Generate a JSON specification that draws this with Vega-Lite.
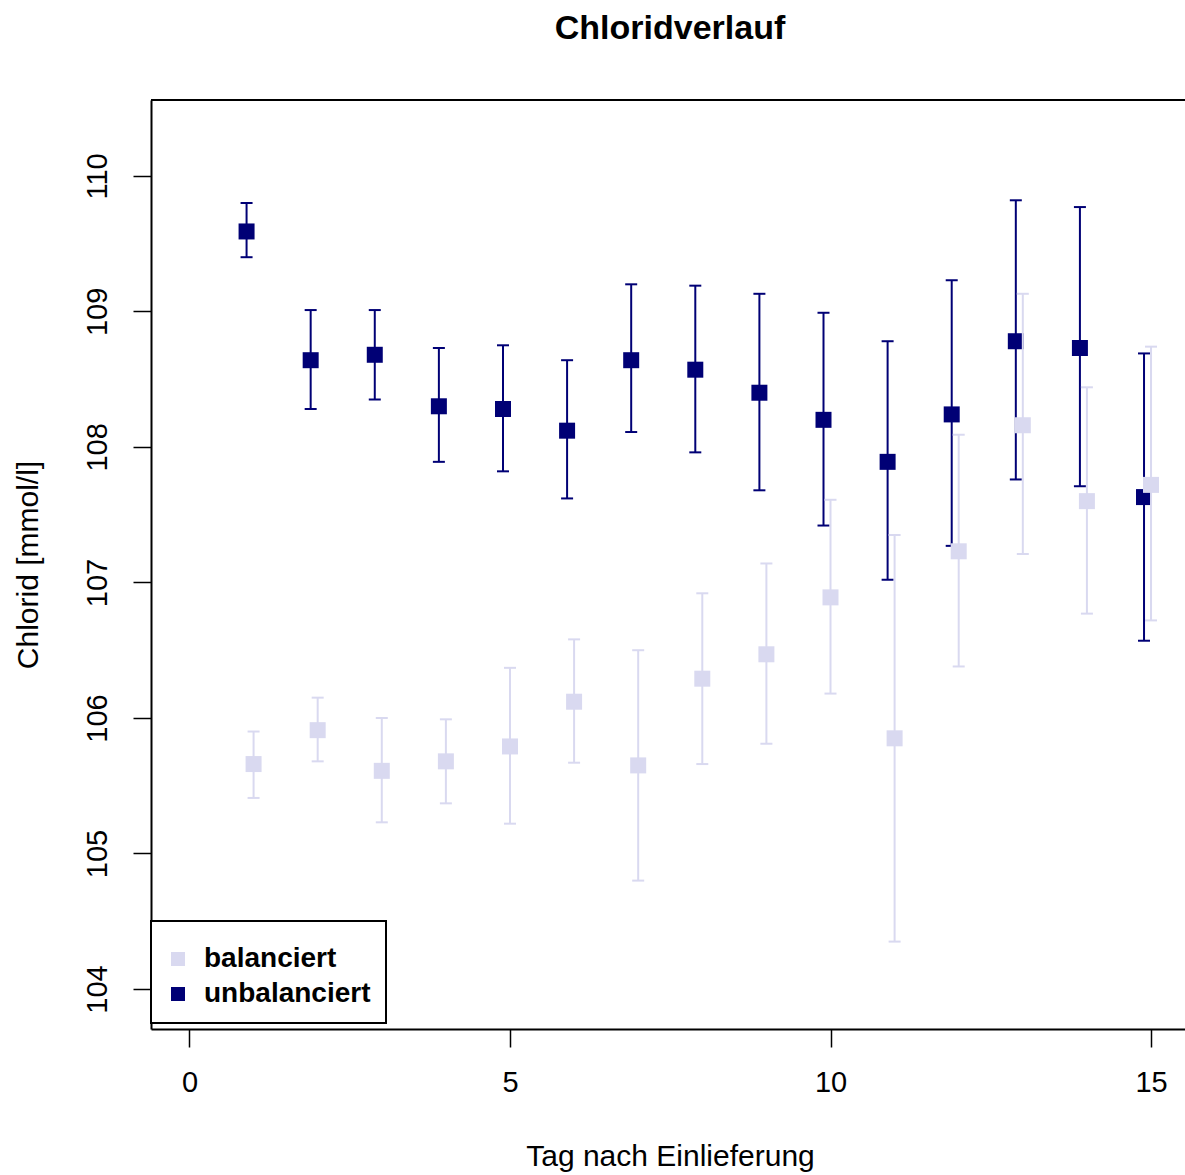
{
  "$schema": "https://vega.github.io/schema/vega-lite/v6.json",
  "width": 1034,
  "height": 929,
  "autosize": {"type": "none"},
  "padding": {"left": 151, "top": 100, "right": 0, "bottom": 146},
  "background": "white",
  "title": {
    "text": "Chloridverlauf",
    "font": "Liberation Sans",
    "fontSize": 34,
    "fontWeight": "bold",
    "color": "black",
    "anchor": "middle",
    "frame": "group",
    "baseline": "alphabetic",
    "offset": 26,
    "dx": 2
  },
  "data": {
    "values": [
      {"tag": 1, "gruppe": "unbalanciert", "mittel": 109.59, "lo": 109.40, "hi": 109.80},
      {"tag": 2, "gruppe": "unbalanciert", "mittel": 108.64, "lo": 108.28, "hi": 109.01},
      {"tag": 3, "gruppe": "unbalanciert", "mittel": 108.68, "lo": 108.35, "hi": 109.01},
      {"tag": 4, "gruppe": "unbalanciert", "mittel": 108.30, "lo": 107.89, "hi": 108.73},
      {"tag": 5, "gruppe": "unbalanciert", "mittel": 108.28, "lo": 107.82, "hi": 108.75},
      {"tag": 6, "gruppe": "unbalanciert", "mittel": 108.12, "lo": 107.62, "hi": 108.64},
      {"tag": 7, "gruppe": "unbalanciert", "mittel": 108.64, "lo": 108.11, "hi": 109.20},
      {"tag": 8, "gruppe": "unbalanciert", "mittel": 108.57, "lo": 107.96, "hi": 109.19},
      {"tag": 9, "gruppe": "unbalanciert", "mittel": 108.40, "lo": 107.68, "hi": 109.13},
      {"tag": 10, "gruppe": "unbalanciert", "mittel": 108.20, "lo": 107.42, "hi": 108.99},
      {"tag": 11, "gruppe": "unbalanciert", "mittel": 107.89, "lo": 107.02, "hi": 108.78},
      {"tag": 12, "gruppe": "unbalanciert", "mittel": 108.24, "lo": 107.27, "hi": 109.23},
      {"tag": 13, "gruppe": "unbalanciert", "mittel": 108.78, "lo": 107.76, "hi": 109.82},
      {"tag": 14, "gruppe": "unbalanciert", "mittel": 108.73, "lo": 107.71, "hi": 109.77},
      {"tag": 15, "gruppe": "unbalanciert", "mittel": 107.63, "lo": 106.57, "hi": 108.69},
      {"tag": 1, "gruppe": "balanciert", "mittel": 105.66, "lo": 105.41, "hi": 105.90},
      {"tag": 2, "gruppe": "balanciert", "mittel": 105.91, "lo": 105.68, "hi": 106.15},
      {"tag": 3, "gruppe": "balanciert", "mittel": 105.61, "lo": 105.23, "hi": 106.00},
      {"tag": 4, "gruppe": "balanciert", "mittel": 105.68, "lo": 105.37, "hi": 105.99},
      {"tag": 5, "gruppe": "balanciert", "mittel": 105.79, "lo": 105.22, "hi": 106.37},
      {"tag": 6, "gruppe": "balanciert", "mittel": 106.12, "lo": 105.67, "hi": 106.58},
      {"tag": 7, "gruppe": "balanciert", "mittel": 105.65, "lo": 104.80, "hi": 106.50},
      {"tag": 8, "gruppe": "balanciert", "mittel": 106.29, "lo": 105.66, "hi": 106.92},
      {"tag": 9, "gruppe": "balanciert", "mittel": 106.47, "lo": 105.81, "hi": 107.14},
      {"tag": 10, "gruppe": "balanciert", "mittel": 106.89, "lo": 106.18, "hi": 107.61},
      {"tag": 11, "gruppe": "balanciert", "mittel": 105.85, "lo": 104.35, "hi": 107.35},
      {"tag": 12, "gruppe": "balanciert", "mittel": 107.23, "lo": 106.38, "hi": 108.09},
      {"tag": 13, "gruppe": "balanciert", "mittel": 108.16, "lo": 107.21, "hi": 109.13},
      {"tag": 14, "gruppe": "balanciert", "mittel": 107.60, "lo": 106.77, "hi": 108.44},
      {"tag": 15, "gruppe": "balanciert", "mittel": 107.72, "lo": 106.72, "hi": 108.74}
    ]
  },
  "encoding": {
    "x": {
      "field": "tag",
      "type": "quantitative",
      "scale": {"domain": [-0.6, 15.53], "nice": false, "zero": false},
      "axis": {
        "values": [0, 5, 10, 15],
        "labelPadding": 21,
        "title": "Tag nach Einlieferung",
        "titleBaseline": "alphabetic",
        "titleY": 136,
        "titleX": 519
      }
    },
    "y": {
      "field": "mittel",
      "type": "quantitative",
      "scale": {"domain": [103.705, 110.56], "nice": false, "zero": false},
      "axis": {
        "values": [104, 105, 106, 107, 108, 109, 110],
        "labelAngle": 270,
        "labelAlign": "center",
        "labelBaseline": "bottom",
        "labelPadding": 21,
        "title": "Chlorid [mmol/l]",
        "titleAngle": 270,
        "titleAlign": "center",
        "titleBaseline": "bottom",
        "titleX": -108,
        "titleY": 464.5
      }
    }
  },
  "layer": [
    {
      "mark": {"type": "rule", "color": "black", "strokeWidth": 2},
      "encoding": {"x": null, "y": {"datum": 110.56, "type": "quantitative"}}
    },
    {
      "transform": [{"filter": "datum.gruppe === 'unbalanciert'"}],
      "mark": {"type": "rule", "color": "#000075", "strokeWidth": 2, "xOffset": -7},
      "encoding": {"y": {"field": "lo", "type": "quantitative"}, "y2": {"field": "hi"}}
    },
    {
      "transform": [{"filter": "datum.gruppe === 'unbalanciert'"}],
      "mark": {"type": "tick", "orient": "horizontal", "color": "#000075", "size": 12, "thickness": 2, "xOffset": -7, "opacity": 1},
      "encoding": {"y": {"field": "hi", "type": "quantitative"}}
    },
    {
      "transform": [{"filter": "datum.gruppe === 'unbalanciert'"}],
      "mark": {"type": "tick", "orient": "horizontal", "color": "#000075", "size": 12, "thickness": 2, "xOffset": -7, "opacity": 1},
      "encoding": {"y": {"field": "lo", "type": "quantitative"}}
    },
    {
      "transform": [{"filter": "datum.gruppe === 'unbalanciert'"}],
      "mark": {"type": "point", "shape": "square", "filled": true, "size": 256, "opacity": 1, "xOffset": -7},
      "encoding": {
        "color": {
          "field": "gruppe",
          "type": "nominal",
          "scale": {"domain": ["balanciert", "unbalanciert"], "range": ["#d9d9f0", "#000075"]},
          "legend": {"title": " "}
        }
      }
    },
    {
      "transform": [{"filter": "datum.gruppe === 'balanciert'"}],
      "mark": {"type": "rule", "color": "#d9d9f0", "strokeWidth": 2},
      "encoding": {"y": {"field": "lo", "type": "quantitative"}, "y2": {"field": "hi"}}
    },
    {
      "transform": [{"filter": "datum.gruppe === 'balanciert'"}],
      "mark": {"type": "tick", "orient": "horizontal", "color": "#d9d9f0", "size": 12, "thickness": 2, "opacity": 1},
      "encoding": {"y": {"field": "hi", "type": "quantitative"}}
    },
    {
      "transform": [{"filter": "datum.gruppe === 'balanciert'"}],
      "mark": {"type": "tick", "orient": "horizontal", "color": "#d9d9f0", "size": 12, "thickness": 2, "opacity": 1},
      "encoding": {"y": {"field": "lo", "type": "quantitative"}}
    },
    {
      "transform": [{"filter": "datum.gruppe === 'balanciert'"}],
      "mark": {"type": "point", "shape": "square", "filled": true, "size": 256, "opacity": 1},
      "encoding": {
        "color": {
          "field": "gruppe",
          "type": "nominal",
          "scale": {"domain": ["balanciert", "unbalanciert"], "range": ["#d9d9f0", "#000075"]},
          "legend": {"title": " "}
        }
      }
    }
  ],
  "config": {
    "view": {"stroke": null},
    "axis": {
      "grid": false,
      "domainColor": "black",
      "domainWidth": 2,
      "tickColor": "black",
      "tickWidth": 1.5,
      "tickSize": 18,
      "labelFont": "Liberation Sans",
      "labelFontSize": 29,
      "labelColor": "black",
      "titleFont": "Liberation Sans",
      "titleFontSize": 30,
      "titleFontWeight": "normal",
      "titleColor": "black"
    },
    "legend": {
      "orient": "none",
      "legendX": 0,
      "legendY": 821,
      "fillColor": "white",
      "strokeColor": "black",
      "strokeWidth": 2,
      "padding": 15,
      "titleFontSize": 9,
      "titlePadding": 0,
      "labelFont": "Liberation Sans",
      "labelFontSize": 28,
      "labelFontWeight": "bold",
      "labelColor": "black",
      "labelOffset": 12,
      "labelLimit": 400,
      "symbolType": "square",
      "symbolSize": 196,
      "symbolOffset": -2,
      "symbolStrokeWidth": 0,
      "symbolOpacity": 1,
      "rowPadding": 7
    }
  }
}
